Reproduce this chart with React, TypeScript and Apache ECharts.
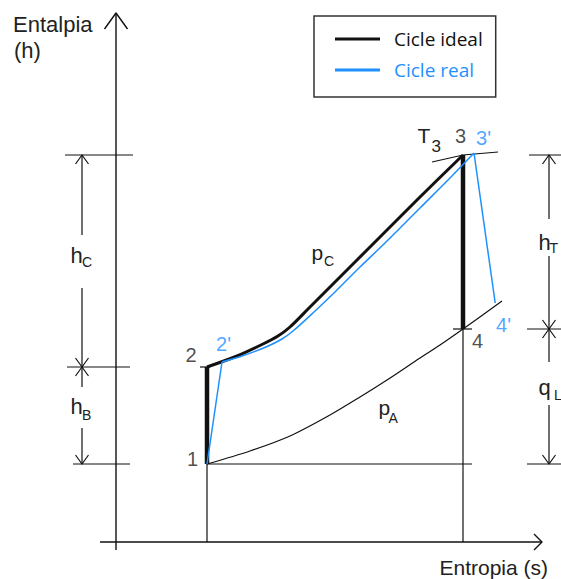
import React, { useEffect, useRef } from 'react';
import * as echarts from 'echarts';

// Ideal Brayton cycle states 1-2-3-4: entropy s and enthalpy h
const idealLabels = ['1', '2', '3', '4'];
const idealS = [2.275, 2.275, 8.675, 8.675];
const idealH = [1.56, 3.5, 7.74, 4.26];

// Real cycle states 2', 3', 4' (state 1 is shared with the ideal cycle)
const realLabels = ["2'", "3'", "4'"];
const realS = [2.65, 8.95, 9.48];
const realH = [3.6, 7.78, 4.78];

// High-pressure isobar p_C, ideal heat addition 2 -> 3
const pcIdealS = [2.275, 3.025, 3.675, 4.05, 4.35, 4.85, 5.35, 5.975, 6.6, 7.6, 8.675];
const pcIdealH = [3.5, 3.72, 3.96, 4.12, 4.3, 4.7, 5.1, 5.6, 6.1, 6.9, 7.74];

// Real heat addition 2' -> 3'
const pcRealS = [2.65, 3.15, 3.75, 4.15, 4.425, 4.95, 5.475, 6.1, 6.725, 7.6, 8.35, 8.95];
const pcRealH = [3.6, 3.72, 3.9, 4.06, 4.22, 4.6, 5.0, 5.5, 5.98, 6.68, 7.28, 7.78];

// Low-pressure isobar p_A from state 1 past state 4
const paS = [2.275, 3.35, 4.35, 5.35, 6.1, 6.775, 7.6, 8.1, 8.675, 9.65];
const paH = [1.56, 1.82, 2.12, 2.54, 2.9, 3.24, 3.68, 3.94, 4.26, 4.82];

// Isotherm T3 through state 3
const t3S = [7.9, 8.675, 9.55];
const t3H = [7.6, 7.74, 7.8];

// ---- layout ----
const W = 561;
const H = 579;
// the value grid covers the whole canvas; the drawn axes span a sub-range of it
const S_MIN = -2.9;
const S_MAX = 11.125;
const H_MIN = -0.74;
const H_MAX = 10.84;
const AXIS_S = [-0.4, 10.65];
const AXIS_H = [-0.16, 10.58];
const PX_PER_S = W / (S_MAX - S_MIN);
const PX_PER_H = H / (H_MAX - H_MIN);

const BLACK = '#111111';
const BLUE = '#1E90FF';
const TEXT = '#222222';
const LABEL_FONT = '"Liberation Sans", Arial, sans-serif';
const LEGEND_FONT = '"Open Sans", "Noto Sans", sans-serif';

type Pt = [number, number];
const zip = (s: number[], h: number[]): Pt[] => s.map((v, i) => [v, h[i]]);

// open arrow head (two strokes) with its tip at (s, h); sizes in pixels
function chevron(s: number, h: number, dir: 'up' | 'down' | 'right', half: number, len: number): Pt[] {
  const ds = 1 / PX_PER_S;
  const dh = 1 / PX_PER_H;
  if (dir === 'up') return [[s - half * ds, h - len * dh], [s, h], [s + half * ds, h - len * dh]];
  if (dir === 'down') return [[s - half * ds, h + len * dh], [s, h], [s + half * ds, h + len * dh]];
  return [[s - len * ds, h + half * dh], [s, h], [s - len * ds, h - half * dh]];
}

function lineSeries(name: string, data: Pt[], color: string, width: number, z: number, smooth: number | boolean = false) {
  return {
    type: 'line',
    name,
    data,
    symbol: 'none',
    showSymbol: false,
    clip: false,
    silent: true,
    smooth,
    z,
    itemStyle: { color },
    lineStyle: { color, width, cap: 'butt', join: 'round' },
  };
}

function text(x: number, y: number, str: string, size: number, color = TEXT, align = 'left', font = LABEL_FONT) {
  return {
    type: 'text',
    x,
    y,
    silent: true,
    style: {
      text: str,
      fontFamily: font,
      fontSize: size,
      fill: color,
      textAlign: align,
      align,
      textVerticalAlign: 'middle',
      verticalAlign: 'middle',
    },
  };
}

function buildOption() {
  const [s1, s2, s3, s4] = idealS;
  const [h1, h2, h3, h4] = idealH;

  const thin: Pt[][] = [];
  // construction lines
  thin.push([[s1, h1], [s4 + 0.225, h1]]);
  thin.push([[s1, 0], [s1, h2]]);
  thin.push([[s3, 0], [s3, h3]]);
  thin.push([[s2 - 0.175, h2], [s2 + 0.075, h2]]);
  thin.push([[s4 - 0.25, h4], [s4 + 0.225, h4]]);
  thin.push(zip(t3S, t3H));

  // left dimension chain h_C / h_B
  const dL = -0.85;
  thin.push([[-1.275, h3], [0.425, h3]]);
  thin.push([[-1.225, h2], [0.35, h2]]);
  thin.push([[-1.075, h1], [0.35, h1]]);
  thin.push([[dL, h3], [dL, 6.14]]);
  thin.push([[dL, 5.08], [dL, h2]]);
  thin.push([[dL, h2], [dL, 3.1]]);
  thin.push([[dL, 2.28], [dL, h1]]);
  thin.push(chevron(dL, h3, 'up', 6.5, 9));
  thin.push(chevron(dL, h2, 'down', 6.5, 9));
  thin.push(chevron(dL, h2, 'up', 6.5, 9));
  thin.push(chevron(dL, h1, 'down', 6.5, 9));

  // right dimension chain h_T / q_L
  const dR = 10.825;
  thin.push([[10.325, h3], [11.15, h3]]);
  thin.push([[10.275, h4], [11.15, h4]]);
  thin.push([[10.275, h1], [11.15, h1]]);
  thin.push([[dR, h3], [dR, 6.46]]);
  thin.push([[dR, 5.72], [dR, h4]]);
  thin.push([[dR, h4], [dR, 3.6]]);
  thin.push([[dR, 2.74], [dR, h1]]);
  thin.push(chevron(dR, h3, 'up', 6.5, 9));
  thin.push(chevron(dR, h4, 'down', 6.5, 9));
  thin.push(chevron(dR, h4, 'up', 6.5, 9));
  thin.push(chevron(dR, h1, 'down', 6.5, 9));

  // coordinate axes with open arrow heads
  const axes: Pt[][] = [
    [[AXIS_S[0], 0], [AXIS_S[1], 0]],
    [[0, AXIS_H[0]], [0, AXIS_H[1]]],
    chevron(0, AXIS_H[1], 'up', 11.5, 16),
    chevron(AXIS_S[1], 0, 'right', 8, 8),
  ];

  const series: any[] = [
    ...axes.map((d) => lineSeries('axis', d, BLACK, 1.4, 1)),
    ...thin.map((d) => lineSeries('construction', d, BLACK, 1.2, 1)),
    lineSeries('p_A', zip(paS, paH), BLACK, 1.2, 1, 0.3),
    // ideal cycle
    lineSeries('Cicle ideal', [[s1, h1], [s2, h2]], BLACK, 4.5, 3),
    lineSeries('Cicle ideal', [[s3, h3], [s4, h4]], BLACK, 4.5, 3),
    lineSeries('Cicle ideal', zip(pcIdealS, pcIdealH), BLACK, 3, 3, 0.3),
    // real cycle
    lineSeries('Cicle real', [[s1, h1], [realS[0], realH[0]]], BLUE, 1.5, 4),
    lineSeries('Cicle real', zip(pcRealS, pcRealH), BLUE, 1.5, 4, 0.3),
    lineSeries('Cicle real', [[realS[1], realH[1]], [realS[2], realH[2]]], BLUE, 1.5, 4),
    // state labels
    {
      type: 'scatter',
      name: 'ideal states',
      silent: true,
      symbolSize: 1,
      itemStyle: { color: 'rgba(0,0,0,0)' },
      z: 5,
      data: idealS.map((s, i) => ({
        value: [s, idealH[i]],
        label: { offset: [[-14.5, -5.5], [-16, -12], [-2.5, -19.5], [14.5, 11.5]][i] },
      })),
      label: {
        show: true,
        position: 'inside',
        formatter: (p: any) => idealLabels[p.dataIndex],
        fontFamily: LABEL_FONT,
        fontSize: 20,
        color: TEXT,
      },
    },
    {
      type: 'scatter',
      name: 'real states',
      silent: true,
      symbolSize: 1,
      itemStyle: { color: 'rgba(0,0,0,0)' },
      z: 5,
      data: realS.map((s, i) => ({
        value: [s, realH[i]],
        label: { offset: [[1.5, -18.5], [9.5, -15], [8.3, 22]][i] },
      })),
      label: {
        show: true,
        position: 'inside',
        formatter: (p: any) => realLabels[p.dataIndex],
        fontFamily: LABEL_FONT,
        fontSize: 20,
        color: BLUE,
      },
    },
  ];

  const graphic: any[] = [
    text(13, 24, 'Entalpia', 22),
    text(14, 50.5, '(h)', 22),
    text(548, 567, 'Entropia (s)', 21, TEXT, 'right'),
    // T3 isotherm label
    text(417.5, 135.5, 'T', 21),
    text(431.5, 146.5, '3', 17),
    // pressure labels
    text(311.5, 252, 'p', 21),
    text(324, 261, 'C', 14),
    text(378.5, 407, 'p', 21),
    text(388.5, 418, 'A', 14),
    // dimension labels
    text(70.5, 255.5, 'h', 22),
    text(82, 262, 'C', 14),
    text(70.5, 406.5, 'h', 22),
    text(82, 415, 'B', 14),
    text(538.5, 242.5, 'h', 22),
    text(549.5, 248, 'T', 14),
    text(538.5, 387, 'q', 22),
    text(554, 395, 'L', 14),
  ];

  const hiddenAxis = {
    type: 'value',
    axisLine: { show: false },
    axisTick: { show: false },
    axisLabel: { show: false },
    splitLine: { show: false },
  };

  return {
    animation: false,
    backgroundColor: '#ffffff',
    grid: { left: 0, right: 0, top: 0, bottom: 0, containLabel: false },
    xAxis: { ...hiddenAxis, min: S_MIN, max: S_MAX },
    yAxis: { ...hiddenAxis, min: H_MIN, max: H_MAX },
    legend: {
      data: [
        { name: 'Cicle ideal', textStyle: { color: '#111' } },
        { name: 'Cicle real', textStyle: { color: BLUE } },
      ],
      selectedMode: false,
      orient: 'vertical',
      left: 314,
      top: 16,
      icon: 'rect',
      itemWidth: 45,
      itemHeight: 3,
      itemGap: 9,
      padding: [12, 13, 16, 21],
      borderColor: '#333',
      borderWidth: 1.5,
      backgroundColor: '#fff',
      textStyle: { fontFamily: LEGEND_FONT, fontSize: 19, lineHeight: 22, padding: [0, 0, 0, 9] },
    },
    graphic,
    series,
  };
}

export default function App() {
  const ref = useRef<HTMLDivElement>(null);
  useEffect(() => {
    if (!ref.current) return;
    const chart = echarts.init(ref.current, undefined, { renderer: 'svg' });
    chart.setOption(buildOption() as any);
    return () => chart.dispose();
  }, []);
  return (
    <div
      ref={ref}
      style={{ position: 'fixed', left: 0, top: 0, width: W, height: H, background: '#fff' }}
    />
  );
}
